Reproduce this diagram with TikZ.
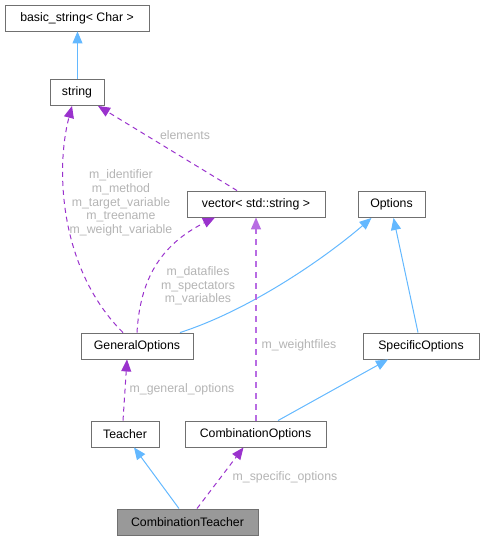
\documentclass[tikz,border=0pt]{standalone}
\usepackage{fontspec}
\setmainfont{Liberation Sans}
\usetikzlibrary{arrows.meta,calc}
\definecolor{inh}{HTML}{63B8FF}
\definecolor{use}{HTML}{9A32CD}
\definecolor{usel}{HTML}{B86CE3}
\definecolor{lbl}{HTML}{B4B4B4}
\definecolor{bdr}{HTML}{707070}
\begin{document}
\begin{tikzpicture}[x=1pt,y=-1pt,
  cls/.style={draw=bdr,line width=0.9pt,fill=white,minimum height=26pt,inner sep=0pt,font=\fontsize{12.3}{14}\selectfont,text=black},
  inharr/.style={draw=inh,line width=1pt,-{Triangle[length=12pt,width=10pt,fill=inh]}},
  usearr/.style={draw=use,line width=1pt,dash pattern=on 5pt off 4pt,-{Triangle[length=12pt,width=10pt,fill=use]}},
  usearrl/.style={draw=usel,line width=1.4pt,dash pattern=on 6pt off 5pt,-{Triangle[length=12pt,width=10pt,fill=usel]}},
  elbl/.style={text=lbl,font=\fontsize{12.3}{14}\selectfont,inner sep=0pt,align=center}]
\useasboundingbox (0,0) rectangle (484,540);
\node[cls,minimum width=144pt] (bs) at (77,18) {basic\_string< Char >};
\node[cls,minimum width=54pt] (str) at (77,92.5) {string};
\node[cls,minimum width=138pt] (vec) at (256,204) {vector< std::string >};
\node[cls,minimum width=67pt] (opt) at (391.5,204.5) {Options};
\node[cls,minimum width=112pt] (gen) at (137,346) {GeneralOptions};
\node[cls,minimum width=116pt] (spec) at (421,346) {SpecificOptions};
\node[cls,minimum width=68pt] (tea) at (125,434) {Teacher};
\node[cls,minimum width=141pt] (co) at (255.5,434) {CombinationOptions};
\node[cls,minimum width=141pt,fill=black!40] (ct) at (187.5,522) {CombinationTeacher};

\draw[inharr] ([xshift=0.5pt]str.north) -- ([xshift=0.5pt]bs.south);
\draw[usearr] ([xshift=-19pt]vec.north) -- ([xshift=21pt]str.south);
\draw[usearr] ([xshift=-14pt]gen.north) .. controls (60,270) and (55,170) .. ([xshift=-5pt]str.south);
\draw[usearr] ([xshift=0pt]gen.north) .. controls (140,280) and (160,245) .. ([xshift=-41pt]vec.south);
\draw[inharr] ([xshift=43pt]gen.north) .. controls (250,310) and (325,258) .. ([xshift=-20pt]opt.south);
\draw[inharr] ([xshift=-3pt]spec.north) -- ([xshift=2pt]opt.south);
\draw[usearrl] ([xshift=0.5pt]co.north) -- ([xshift=0pt]vec.south);
\draw[inharr] ([xshift=22.5pt]co.north) -- ([xshift=-33pt]spec.south);
\draw[usearr] ([xshift=-2pt]tea.north) -- ([xshift=-10pt]gen.south);
\draw[inharr] ([xshift=-8.5pt]ct.north) -- ([xshift=9pt]tea.south);
\draw[usearr] ([xshift=9.5pt]ct.north) -- ([xshift=-12pt]co.south);

\node[elbl] (l1) at (185,135) {elements};
\node[elbl] (l2) at (121,203) {m\_identifier\\[-0.4pt]m\_method\\[-0.4pt]m\_target\_variable\\[-0.4pt]m\_treename\\[-0.4pt]m\_weight\_variable};
\node[elbl] (l3) at (198,286) {m\_datafiles\\[-0.4pt]m\_spectators\\[-0.4pt]m\_variables};
\node[elbl] (l4) at (299,345) {m\_weightfiles};
\node[elbl] (l5) at (182,389) {m\_general\_options};
\node[elbl] (l6) at (285,477) {m\_specific\_options};
\end{tikzpicture}
\end{document}
